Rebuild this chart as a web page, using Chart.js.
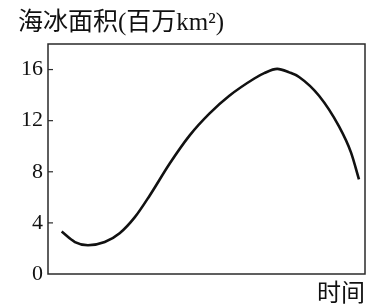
<!DOCTYPE html>
<html>
<head>
<meta charset="utf-8">
<script src="https://cdn.jsdelivr.net/npm/chart.js@4"></script>
<style>
  html, body { margin: 0; padding: 0; background: #fff; }
  #wrap { width: 371px; height: 307px; }
</style>
</head>
<body>
<div id="wrap"><canvas id="iceChart"></canvas></div>
<script>
// Data (x = relative time 0..100)
const timePoints = [4.3, 8.5, 12.6, 17.9, 22.6, 27.4, 32.1, 38.4, 44.7, 50.9, 57.2, 65.1, 68.2, 72.3, 76.1, 79.2, 85.5, 91.8, 95.6, 98.1];
const iceArea = [3.32, 2.5, 2.25, 2.5, 3.19, 4.45, 6.15, 8.65, 10.85, 12.55, 13.95, 15.3, 15.72, 16.05, 15.78, 15.42, 13.95, 11.55, 9.5, 7.4];
const yTickLabels = [0, 4, 8, 12, 16];

const serif = "'Liberation Serif', 'Noto Sans CJK SC', serif";

// Frame round the plot area plus small inward ticks on the y axis
const framePlugin = {
  id: "frame",
  afterDraw(chart) {
    const { ctx, chartArea: a } = chart;
    const y = chart.scales.y;
    ctx.save();
    ctx.strokeStyle = "#2a2a2a";
    ctx.lineWidth = 1.5;
    ctx.strokeRect(a.left, a.top, a.right - a.left, a.bottom - a.top);
    ctx.lineWidth = 1.2;
    y.ticks.forEach((t) => {
      if (t.value <= 0 || t.value >= 18) return;
      const py = y.getPixelForValue(t.value);
      ctx.beginPath();
      ctx.moveTo(a.left, py);
      ctx.lineTo(a.left + 5, py);
      ctx.stroke();
    });
    ctx.restore();
  },
};

new Chart(document.getElementById("iceChart").getContext("2d"), {
  type: "line",
  data: {
    datasets: [
      {
        data: timePoints.map((t, i) => ({ x: t, y: iceArea[i] })),
        borderColor: "#111",
        borderWidth: 2.6,
        pointRadius: 0,
        cubicInterpolationMode: "monotone",
        fill: false,
      },
    ],
  },
  options: {
    responsive: true,
    maintainAspectRatio: false,
    animation: false,
    layout: { padding: { left: 18, right: 6, top: 0, bottom: 0 } },
    plugins: {
      legend: { display: false },
      tooltip: { enabled: false },
      title: {
        display: true,
        text: "海冰面积(百万km²)",
        align: "start",
        color: "#111",
        font: { family: serif, size: 25, weight: "normal", lineHeight: 1.2 },
        padding: { top: 8, bottom: 6 },
      },
    },
    scales: {
      x: {
        type: "linear",
        min: 0,
        max: 100,
        grid: { display: false, drawTicks: false },
        border: { display: false },
        ticks: { display: false },
        title: {
          display: true,
          text: "时间",
          align: "end",
          color: "#111",
          font: { family: serif, size: 24, lineHeight: 1 },
          padding: { top: 9, bottom: 0 },
        },
      },
      y: {
        min: 0,
        max: 18,
        grid: { display: false, drawTicks: false },
        border: { display: false },
        afterFit: (s) => { s.width = 30; },
        ticks: {
          stepSize: 2,
          padding: 5,
          color: "#111",
          font: { family: serif, size: 22 },
          callback: (v) => (yTickLabels.includes(v) ? v : ""),
        },
      },
    },
  },
  plugins: [framePlugin],
});
</script>
</body>
</html>
